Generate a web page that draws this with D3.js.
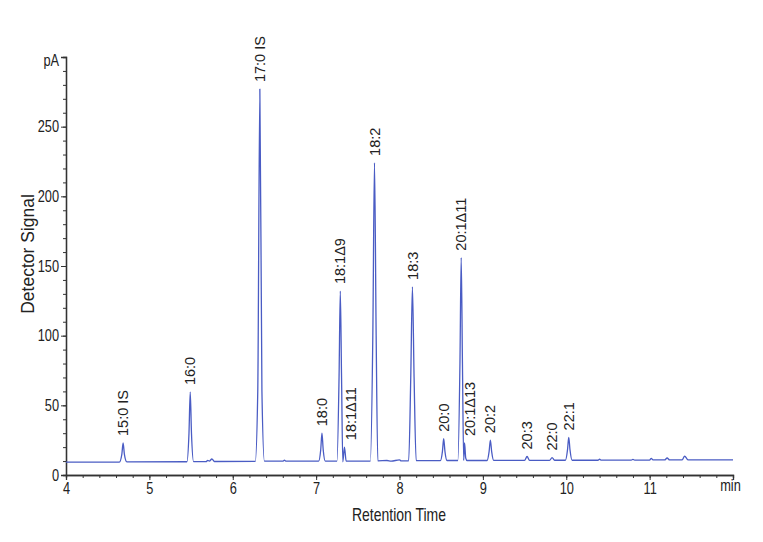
<!DOCTYPE html>
<html><head><meta charset="utf-8">
<script src="https://cdn.jsdelivr.net/npm/d3@7"></script>
<style>body{margin:0;background:#fff}svg{display:block}text{font-family:"Liberation Sans",Arial,sans-serif}
.nar{transform-box:fill-box;transform-origin:center;transform:scaleX(0.8)}
.narR{transform-box:fill-box;transform-origin:right center;transform:scaleX(0.8)}</style>
</head><body>
<svg id="c" width="763" height="542"></svg>
<script>
// chromatogram trace (retention time in min, detector signal in pA)
const traceTime = [4.00,4.64,4.67,4.685,4.70,4.73,5.45,5.475,5.49,5.505,5.53,5.68,5.70,5.72,5.75,5.78,6.27,6.30,6.325,6.35,6.38,6.60,6.62,6.64,7.03,7.055,7.07,7.085,7.11,7.25,7.275,7.29,7.305,7.32,7.34,7.36,7.65,7.68,7.70,7.72,7.74,7.85,7.90,8.00,8.02,8.11,8.135,8.155,8.175,8.20,8.49,8.515,8.53,8.545,8.57,8.70,8.725,8.74,8.755,8.77,8.78,8.795,8.81,9.05,9.075,9.09,9.105,9.13,9.50,9.53,9.56,9.80,9.83,9.86,9.99,10.015,10.03,10.045,10.07,10.38,10.40,10.42,10.78,10.80,10.82,11.00,11.02,11.04,11.18,11.21,11.24,11.39,11.42,11.46,12.00];
const traceSignal = [9.3,9.3,15,23,15,9.4,9.5,30,59.5,30,9.6,9.6,10.5,10,11.5,9.7,9.8,60,277,60,10,10,10.6,10,10,18,30,18,10,10,70,132,70,9.5,20,10,10,100,224,100,10.2,10.4,10,10.8,10.2,10.2,70,135,70,10.3,10.3,17,26,17,10.4,10.4,80,156,80,10.5,23,12,10.4,10.4,17,25,17,10.5,10.5,13.3,10.5,10.5,12.5,10.6,10.6,18,27,18,10.6,10.6,11.3,10.7,10.7,11.2,10.7,10.7,12.0,10.8,10.8,12.2,10.8,10.8,13.6,10.9,10.9];
// peak annotations
const peakNames = ["15:0 IS","16:0","17:0 IS","18:0","18:1Δ9","18:1Δ11","18:2","18:3","20:0","20:1Δ11","20:1Δ13","20:2","20:3","22:0","22:1"];
const peakTimes = [4.685,5.49,6.325,7.07,7.29,7.34,7.70,8.155,8.53,8.74,8.78,9.09,9.53,9.83,10.03];
const peakApex  = [23,59.5,277,30,132,20,224,135,26,156,23,25,13.3,12.5,27];
const xTicks = [4,5,6,7,8,9,10,11,12];
const xTickLabels = ["4","5","6","7","8","9","10","11","min"];
const yTicks = [0,50,100,150,200,250,300];
const yTickLabels = ["0","50","100","150","200","250","pA"];

const svg = d3.select("#c");
const m = {l:66, r:733, t:57, b:475};
const x = d3.scaleLinear().domain([4,12]).range([m.l,m.r]);
const y = d3.scaleLinear().domain([0,300]).range([m.b,m.t]);
const axisColor = "#333";

const gx = svg.append("g").attr("transform",`translate(0,${m.b})`);
gx.call(d3.axisBottom(x).tickValues(d3.range(4,12.001,0.2)).tickSize(3).tickFormat(""));
gx.append("g").call(d3.axisBottom(x).tickValues(xTicks).tickSize(5).tickPadding(3).tickFormat((d,i)=>xTickLabels[i]));
gx.selectAll("path.domain").attr("stroke",axisColor).attr("stroke-width",1.3);
gx.selectAll("line").attr("stroke",axisColor);
gx.selectAll("text").attr("class","nar").attr("fill","#222").style("font-size","16px");
gx.selectAll("text").filter(d=>d===12).attr("dy","0.5em").attr("dx","-3");

const gy = svg.append("g").attr("transform",`translate(${m.l},0)`);
gy.call(d3.axisLeft(y).tickValues(d3.range(0,300.001,10)).tickSize(3).tickFormat(""));
gy.append("g").call(d3.axisLeft(y).tickValues(yTicks).tickSize(5).tickPadding(2).tickFormat((d,i)=>yTickLabels[i]));
gy.selectAll("path.domain").attr("stroke",axisColor).attr("stroke-width",1.3);
gy.selectAll("line").attr("stroke",axisColor);
gy.selectAll("text").attr("class","narR").attr("fill","#222").style("font-size","16px");
gy.selectAll("text").filter(d=>d===300).attr("dy","0.55em");

// trace
const pts = traceTime.map((t,i)=>[t,traceSignal[i]]);
svg.append("path").datum(pts)
  .attr("fill","none").attr("stroke","#4a5cc4").attr("stroke-width",1.3).attr("stroke-linejoin","round")
  .attr("d", d3.line().x(d=>x(d[0])).y(d=>y(d[1])).curve(d3.curveMonotoneX));

// peak labels
const labelShift = {"18:1Δ11":6, "20:1Δ13":5};
svg.append("g").selectAll("text").data(peakNames).join("text")
  .attr("transform",(d,i)=>`translate(${x(peakTimes[i])+(labelShift[d]||0)},${y(peakApex[i])-7}) rotate(-90)`)
  .attr("dy","0.35em").attr("text-anchor","start")
  .attr("fill","#222").style("font-size","14.5px").text(d=>d);

// axis titles
svg.append("text").attr("class","nar").attr("x",399).attr("y",521).attr("text-anchor","middle")
  .attr("fill","#222").style("font-size","17.5px").text("Retention Time");
svg.append("text").attr("transform","translate(34,254) rotate(-90)").attr("text-anchor","middle")
  .attr("fill","#222").style("font-size","17.5px").text("Detector Signal");
</script>
</body></html>
